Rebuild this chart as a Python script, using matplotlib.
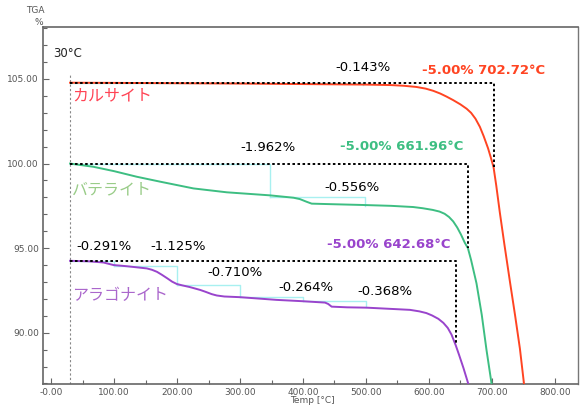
import matplotlib
matplotlib.use("Agg")
import matplotlib.pyplot as plt
from matplotlib.ticker import MultipleLocator

plt.rcParams['font.family'] = ['DejaVu Sans', 'Noto Sans CJK JP']

# --- TGA curves (temperature °C, weight %) ---
calcite_t = [30, 100, 200, 300, 400, 500, 540, 560, 580, 595, 607, 618, 628,
             638.6, 650, 660, 667, 674, 681, 687, 694, 698, 702.72, 707, 712.7,
             720, 729, 737, 744.6, 751, 754]
calcite_w = [104.78, 104.77, 104.75, 104.73, 104.70, 104.67, 104.64, 104.60,
             104.53, 104.43, 104.30, 104.14, 103.96, 103.75, 103.50, 103.24,
             103.00, 102.65, 102.17, 101.62, 100.90, 100.40, 99.78, 98.70,
             97.10, 95.20, 92.95, 91.00, 89.05, 87.00, 86.20]

vaterite_t = [30, 67, 100, 136, 173, 226, 279, 347.6, 385, 395, 405.8, 413.8,
              443, 495.7, 540, 575, 590, 606, 617, 625, 632, 638.6, 645, 651,
              657, 661.96, 667, 675.6, 684, 691.5, 699.5, 702]
vaterite_w = [100.0, 99.81, 99.55, 99.22, 98.93, 98.53, 98.30, 98.12, 97.98,
              97.90, 97.74, 97.63, 97.60, 97.55, 97.50, 97.43, 97.36, 97.26,
              97.16, 97.03, 96.84, 96.58, 96.22, 95.80, 95.32, 95.00, 94.30,
              92.92, 91.05, 88.98, 87.00, 86.30]

aragonite_t = [30, 60, 83, 99, 120, 152, 160, 168, 176, 185, 192, 199.5, 208,
               220, 236.5, 245, 255, 263, 275, 300, 358, 400, 435, 440, 445.5,
               470, 501, 570, 585, 596, 605, 615, 623, 630, 636, 642.68, 648,
               655, 662.4, 665]
aragonite_w = [94.25, 94.22, 94.15, 94.00, 93.93, 93.80, 93.72, 93.60, 93.42,
               93.20, 93.02, 92.88, 92.80, 92.70, 92.53, 92.42, 92.28, 92.20,
               92.14, 92.10, 91.94, 91.86, 91.78, 91.70, 91.54, 91.50, 91.48,
               91.35, 91.26, 91.16, 91.02, 90.82, 90.58, 90.28, 89.88, 89.25,
               88.68, 87.90, 87.00, 86.50]

# step analysis: end temperatures of each step and weight losses (%)
calcite_steps = [495]
calcite_losses = [0.143]
vaterite_steps = [347.6, 499]
vaterite_losses = [1.962, 0.556]
aragonite_steps = [99, 199.5, 300, 400, 500]
aragonite_losses = [0.291, 1.125, 0.710, 0.264, 0.368]

# 5 % weight-loss temperatures
calcite_t5 = 702.72
vaterite_t5 = 661.96
aragonite_t5 = 642.68

names = ["カルサイト", "バテライト", "アラゴナイト"]
x_ticks = [0, 100, 200, 300, 400, 500, 600, 700, 800]
x_tick_labels = ["-0.00", "100.00", "200.00", "300.00", "400.00", "500.00",
                 "600.00", "700.00", "800.00"]
y_ticks = [90, 95, 100, 105]
y_tick_labels = ["90.00", "95.00", "100.00", "105.00"]
start_temp = 30

RED = "#FF4422"
GREEN = "#3DBE82"
PURPLE = "#9944CC"
CYAN = "#A8F0F0"

fig = plt.figure(figsize=(5.81, 4.05), dpi=100)
ax = fig.add_axes([0.074, 0.052, 0.921, 0.882])
ax.set_xlim(-13, 837)
ax.set_ylim(86.97, 108.09)

# start-temperature marker
ax.plot([start_temp, start_temp], [86.97, 105.25], color="#888888", lw=0.8,
        ls=(0, (2, 2)), zorder=1)


def steps(t, w, ends, losses):
    level = w[0]
    prev = t[0]
    for end, loss in zip(ends, losses):
        ax.plot([prev, end, end], [level, level, level - loss], color=CYAN,
                lw=1.0, zorder=2)
        level -= loss
        prev = end


def box(t, w, t5):
    top = w[0]
    ax.plot([t[0], t5, t5], [top, top, top - 5.0], color="black", lw=1.4,
            ls=(0, (1.3, 1.3)), zorder=4)


for t, w, ends, losses, t5, col in [
    (calcite_t, calcite_w, calcite_steps, calcite_losses, calcite_t5, RED),
    (vaterite_t, vaterite_w, vaterite_steps, vaterite_losses, vaterite_t5, GREEN),
    (aragonite_t, aragonite_w, aragonite_steps, aragonite_losses, aragonite_t5, PURPLE),
]:
    steps(t, w, ends, losses)
    ax.plot(t, w, color=col, lw=1.4, zorder=3, solid_joinstyle="round")
    box(t, w, t5)

# step annotations
fs = 9.5
ax.text(495, 105.65, f"-{calcite_losses[0]:.3f}%", ha="center", va="center", fontsize=fs)
ax.text(344, 100.92, f"-{vaterite_losses[0]:.3f}%", ha="center", va="center", fontsize=fs)
ax.text(478, 98.56, f"-{vaterite_losses[1]:.3f}%", ha="center", va="center", fontsize=fs)
for tx, wy, loss in zip([84, 202, 292, 405, 530],
                        [95.08, 95.08, 93.54, 92.65, 92.42], aragonite_losses):
    ax.text(tx, wy, f"-{loss:.3f}%", ha="center", va="center", fontsize=fs)

# 5 % loss annotations
ax.text(784, 105.53, f"-5.00% {calcite_t5:.2f}°C", ha="right", va="center",
        fontsize=fs, fontweight="bold", color=RED)
ax.text(654, 100.98, f"-5.00% {vaterite_t5:.2f}°C", ha="right", va="center",
        fontsize=fs, fontweight="bold", color=GREEN)
ax.text(634, 95.2, f"-5.00% {aragonite_t5:.2f}°C", ha="right", va="center",
        fontsize=fs, fontweight="bold", color=PURPLE)

# sample names
jp = ["Noto Sans CJK JP", "DejaVu Sans"]
ax.text(33, 104.0, names[0], ha="left", va="center", fontsize=11.5, color="#FF4455", family=jp)
ax.text(33, 98.44, names[1], ha="left", va="center", fontsize=11.5, color="#99CC88", family=jp)
ax.text(33, 92.18, names[2], ha="left", va="center", fontsize=11.5, color="#AA66CC", family=jp)

ax.text(3, 106.48, f"{start_temp}°C", ha="left", va="center", fontsize=8.5, color="#222222")

# axes styling
ax.set_xticks(x_ticks)
ax.set_xticklabels(x_tick_labels)
ax.set_yticks(y_ticks)
ax.set_yticklabels(y_tick_labels)
ax.xaxis.set_minor_locator(MultipleLocator(50))
ax.yaxis.set_minor_locator(MultipleLocator(1))
ax.tick_params(which="both", direction="in", colors="#666666", labelcolor="#555555",
               labelsize=6.5, length=3, width=0.8, pad=3)
ax.tick_params(which="major", length=4)
for side in ["left", "bottom", "top"]:
    ax.spines[side].set_color("#666666")
    ax.spines[side].set_linewidth(1.2)
ax.spines["right"].set_color("#777777")
ax.spines["right"].set_linewidth(1.0)

fig.text(0.060, 0.975, "TGA", ha="center", va="center", fontsize=6.5, color="#555555")
fig.text(0.067, 0.945, "%", ha="center", va="center", fontsize=6.5, color="#555555")
fig.text(0.537, 0.012, "Temp [°C]", ha="center", va="center", fontsize=6.5, color="#555555")

fig.savefig("out.png", dpi=100)
